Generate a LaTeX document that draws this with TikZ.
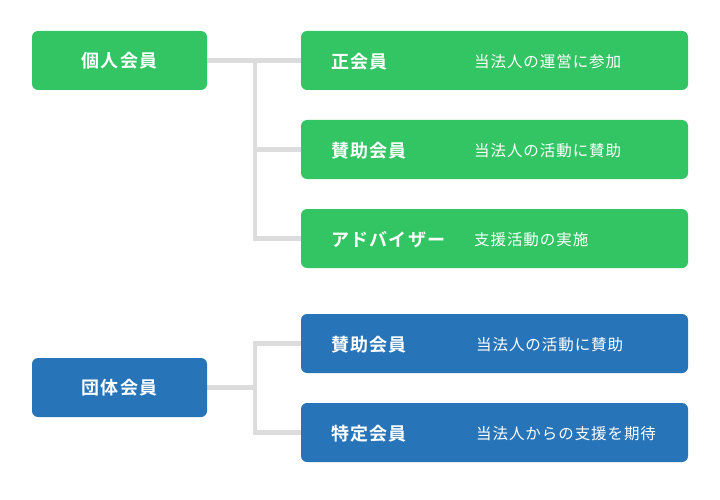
\documentclass[tikz,border=0pt]{standalone}
\usepackage{fontspec}
\usetikzlibrary{backgrounds}
\newfontfamily\cjk{Noto Sans CJK JP}[BoldFont={Noto Sans CJK JP Bold}]
\definecolor{grn}{HTML}{33C463}
\definecolor{blu}{HTML}{2874B8}
\definecolor{lin}{HTML}{DCDCDC}
\begin{document}
\begin{tikzpicture}[x=1pt,y=-1pt,
  box/.style={rounded corners=6pt, inner sep=0pt, minimum height=59pt, text=white},
  leftbox/.style={box, minimum width=175pt, font=\cjk\bfseries\fontsize{18}{20}\selectfont\addfontfeature{LetterSpace=7}},
  rightbox/.style={box, minimum width=387pt},
  ttl/.style={anchor=west, inner sep=0pt, text=white, font=\cjk\bfseries\fontsize{18}{20}\selectfont\addfontfeature{LetterSpace=7}},
  dsc/.style={anchor=west, inner sep=0pt, text=white, font=\cjk\fontsize{15.5}{17}\selectfont\addfontfeature{LetterSpace=6}},
  conn/.style={draw=lin, line width=4.8pt}]
\useasboundingbox (0,0) rectangle (720,500);
% left boxes
\node[leftbox, fill=grn] (ind) at (119.5,60.5) {\raisebox{-1.5pt}{個人会員}};
\node[leftbox, fill=blu] (grp) at (119.5,387.5) {\raisebox{-1.5pt}{団体会員}};
% right boxes
\node[rightbox, fill=grn] (r1) at (494.5,60.5) {};
\node[rightbox, fill=grn] (r2) at (494.5,149.5) {};
\node[rightbox, fill=grn] (r3) at (494.5,238.5) {};
\node[rightbox, fill=blu] (r4) at (494.5,343.5) {};
\node[rightbox, fill=blu] (r5) at (494.5,432.5) {};
% titles
\node[ttl] (t1) at (331,62) {正会員};
\node[ttl] (t2) at (331,151) {賛助会員};
\node[ttl] (t3) at (331,240) {アドバイザー};
\node[ttl] (t4) at (331,345) {賛助会員};
\node[ttl] (t5) at (331,434) {特定会員};
% descriptions
\node[dsc] (d1) at (474,62) {当法人の運営に参加};
\node[dsc] (d2) at (474,151) {当法人の活動に賛助};
\node[dsc] (d3) at (474,240) {支援活動の実施};
\node[dsc] (d4) at (476,345) {当法人の活動に賛助};
\node[dsc] (d5) at (476,434) {当法人からの支援を期待};
% connectors
\coordinate (ja) at (255,60.5);
\coordinate (jb) at (255,387.5);
\coordinate (jc) at (255,149.5);
\begin{pgfonlayer}{background}
\draw[conn] (ind.east) -- (ja);
\draw[conn, line cap=rect] (ja) |- (r3.west);
\draw[conn] (jc) -- (r2.west);
\draw[conn] (ja) -- (r1.west);
\draw[conn] (grp.east) -- (jb);
\draw[conn, line cap=rect] (r4.west) -| (jb) |- (r5.west);
\end{pgfonlayer}
\end{tikzpicture}
\end{document}
